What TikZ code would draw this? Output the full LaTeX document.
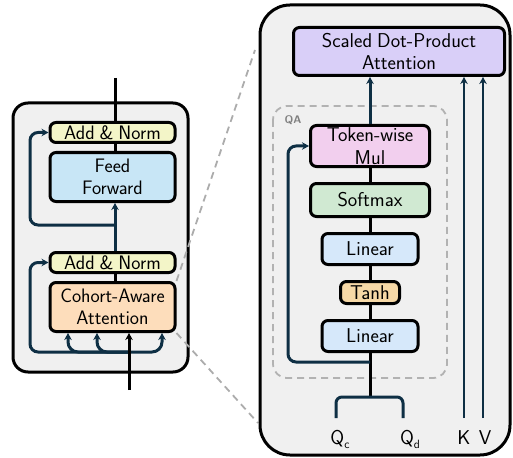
\documentclass[tikz,border=0pt]{standalone}
\usepackage{fontspec}
\setsansfont{Latin Modern Sans}[WordSpace=0.8]
\usetikzlibrary{arrows.meta}
\definecolor{navy}{HTML}{0E2F44}
\definecolor{bgc}{HTML}{F0F0F0}
\definecolor{cAN}{HTML}{F3F5C8}
\definecolor{cFF}{HTML}{C8E6F6}
\definecolor{cCA}{HTML}{FDDDBB}
\definecolor{cSD}{HTML}{D9CFF8}
\definecolor{cMU}{HTML}{F2CFEE}
\definecolor{cSM}{HTML}{D0E9D2}
\definecolor{cLI}{HTML}{D6E8FA}
\definecolor{cTA}{HTML}{F6D8A6}
\newcommand{\sbs}[1]{\raisebox{-4pt}{\fontsize{12}{12}\selectfont #1}}
\begin{document}
\begin{tikzpicture}[x=1pt,y=-1pt,font=\sffamily,
  box/.style={draw=black,line width=3pt,rounded corners=6pt,align=center,inner sep=0pt},
  lft/.style={font=\sffamily\fontsize{19.5}{21.5}\selectfont},
  rgt/.style={font=\sffamily\fontsize{20}{22.5}\selectfont},
  blk/.style={draw=black,line width=3pt},
  nav/.style={draw=navy,line width=3pt},
  tip/.style={-{Stealth[length=7pt,width=7.5pt]}},
  zoomline/.style={draw=gray!65,line width=1.8pt,dash pattern=on 7pt off 5pt}]
\useasboundingbox (0,0) rectangle (513,457);
% left block
\draw[line width=3pt,fill=bgc,rounded corners=15pt] (13,103) rectangle (188,372);
\node[box,lft,fill=cAN,minimum width=125pt,minimum height=20pt] (an2) at (112.5,132.5) {Add \& Norm};
\node[box,lft,fill=cFF,minimum width=125pt,minimum height=49pt] (ff) at (112.5,177) {Feed\\Forward};
\node[box,lft,fill=cAN,minimum width=125pt,minimum height=20pt] (an1) at (112.5,262.5) {Add \& Norm};
\node[box,lft,fill=cCA,minimum width=125pt,minimum height=49pt] (ca) at (112.5,307) {Cohort-Aware\\Attention};
\coordinate (top) at (115,78);
\coordinate (r2) at (115,225);
\coordinate (in) at (129,390);
\coordinate (j) at (129,352);
\draw[blk] (top) -- (top |- an2.north);
\draw[blk] (top |- an2.south) -- (top |- ff.north);
\draw[nav,tip] (top |- an1.north) -- (top |- ff.south);
\draw[nav,tip,rounded corners=8pt] (r2) -- (30,225) -- (30,132.5) -- (an2.west);
\draw[blk] (top |- ca.north) -- (top |- an1.south);
\draw[nav,tip,rounded corners=10pt] (j) -| (68,333);
\draw[nav,tip,rounded corners=10pt] (j) -| (97,333);
\draw[nav,tip,rounded corners=10pt] (j) -| (162,333);
\draw[nav,tip,rounded corners=8pt] (j) -- (30,352) -- (30,262.5) -- (an1.west);
\draw[blk,tip] (in) -- (in |- ca.south);
% zoom lines
\coordinate (z1) at (255,50);
\coordinate (z2) at (258,423);
\draw[zoomline] (ca.north east) -- (z1);
\draw[zoomline] (ca.south east) -- (z2);
% right block
\draw[line width=3pt,fill=bgc,rounded corners=30pt] (260,5) rectangle (510,455);
\draw[draw=gray!60,line width=1.8pt,dash pattern=on 7pt off 5pt,rounded corners=14pt] (273,106) rectangle (447,378);
\node[text=gray,font=\sffamily\bfseries\fontsize{11}{12}\selectfont] (qa) at (293,120) {QA};
\node[box,rgt,fill=cSD,minimum width=211pt,minimum height=48pt] (sd) at (399,51.5) {Scaled Dot-Product\\Attention};
\node[box,rgt,fill=cMU,minimum width=119pt,minimum height=41pt] (mu) at (370,146) {Token-wise\\Mul};
\node[box,rgt,fill=cSM,minimum width=119pt,minimum height=33pt] (sm) at (370,200) {Softmax};
\node[box,rgt,fill=cLI,minimum width=96pt,minimum height=31pt] (l1) at (370,249) {Linear};
\node[box,rgt,fill=cTA,minimum width=59pt,minimum height=22pt] (ta) at (370,292.5) {Tanh};
\node[box,rgt,fill=cLI,minimum width=96pt,minimum height=31pt] (l2) at (370,336) {Linear};
\coordinate (f) at (370,397);
\coordinate (rq) at (370,362);
\draw[blk] (f) -- (l2.south);
\draw[blk] (l2.north) -- (ta.south);
\draw[blk] (ta.north) -- (l1.south);
\draw[blk] (l1.north) -- (sm.south);
\draw[blk] (sm.north) -- (mu.south);
\draw[nav,tip] (mu.north) -- (mu.north |- sd.south);
\draw[nav,tip,rounded corners=8pt] (rq) -- (288,362) -- (288,146) -- (mu.west);
\node[rgt,anchor=base] (qc) at (340,444) {Q\sbs{c}};
\node[rgt,anchor=base] (qd) at (410,444) {Q\sbs{d}};
\node[rgt,anchor=base] (k) at (464,444) {K};
\node[rgt,anchor=base] (v) at (485,444) {V};
\draw[nav,rounded corners=6pt] (336,418) -- (336,397) -- (403,397) -- (403,418);
\draw[nav,line width=2.4pt,tip] (464,418) -- (464,0 |- sd.south);
\draw[nav,line width=2.4pt,tip] (483,418) -- (483,0 |- sd.south);
\end{tikzpicture}
\end{document}
